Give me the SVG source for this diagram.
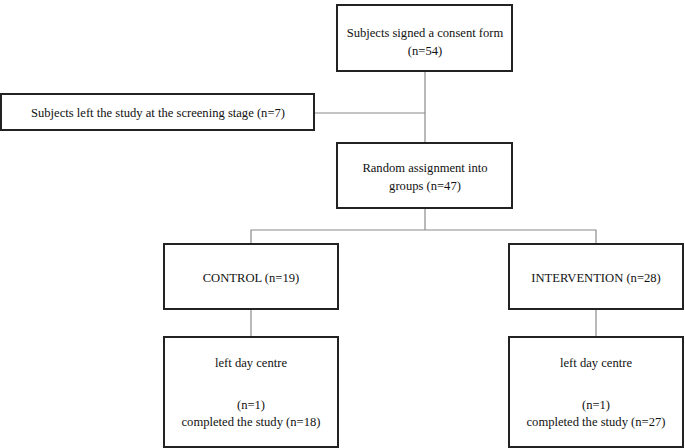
<svg xmlns="http://www.w3.org/2000/svg" width="685" height="448" viewBox="0 0 685 448">
<style>
.box{fill:#fff;stroke:#222;stroke-width:2}
.t{font-family:'Liberation Serif','DejaVu Serif',serif;font-size:12.6px;fill:#111;text-anchor:middle}
.c{stroke:#8a8a8a;stroke-width:1.2;fill:none}
</style>
<rect width="685" height="448" fill="#fff"/>
<g id="connectors">
<path class="c" d="M425 71V143"/>
<path class="c" d="M314 113H425"/>
<path class="c" d="M425 208V230"/>
<path class="c" d="M251 244V230H596V244"/>
<path class="c" d="M251 309V337"/>
<path class="c" d="M596 309V337"/>
</g>
<g id="consent">
<rect class="box" x="337" y="5" width="175" height="66"/>
<text class="t" x="425" y="37">Subjects signed a consent form</text>
<text class="t" x="425" y="55">(n=54)</text>
</g>
<g id="screening">
<rect class="box" x="1" y="94" width="313" height="36"/>
<text class="t" x="158" y="117">Subjects left the study at the screening stage (n=7)</text>
</g>
<g id="random">
<rect class="box" x="337" y="143" width="175" height="65"/>
<text class="t" x="425" y="172">Random assignment into</text>
<text class="t" x="425" y="190">groups (n=47)</text>
</g>
<g id="control">
<rect class="box" x="164" y="244" width="174" height="65"/>
<text class="t" x="251" y="282">CONTROL (n=19)</text>
</g>
<g id="intervention">
<rect class="box" x="509" y="244" width="174" height="65"/>
<text class="t" x="596" y="282">INTERVENTION (n=28)</text>
</g>
<g id="control-out">
<rect class="box" x="164" y="337" width="174" height="110"/>
<text class="t" x="251" y="367">left day centre</text>
<text class="t" x="251" y="409">(n=1)</text>
<text class="t" x="251" y="426">completed the study (n=18)</text>
</g>
<g id="intervention-out">
<rect class="box" x="509" y="337" width="174" height="110"/>
<text class="t" x="596" y="367">left day centre</text>
<text class="t" x="596" y="409">(n=1)</text>
<text class="t" x="596" y="426">completed the study (n=27)</text>
</g>
</svg>
